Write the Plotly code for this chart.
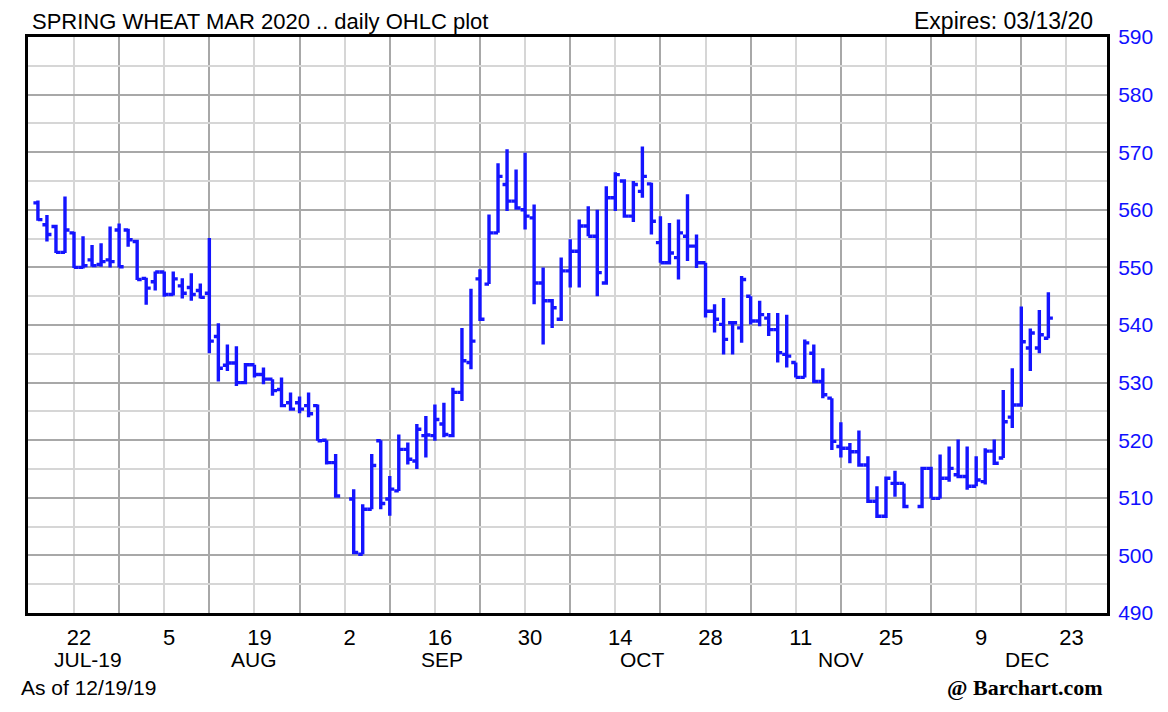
import pandas as pd
import plotly.graph_objects as go

# ---- data ----
holidays = ["2019-09-02", "2019-11-28"]
dates = [d for d in pd.bdate_range("2019-07-16", "2019-12-19").strftime("%Y-%m-%d") if d not in holidays]

opens = [561.2, 557.4, 557.1, 552.6, 556.0, 550.0, 551.3, 550.5, 551.3, 556.5,
         556.5, 554.5, 548.1, 547.5, 549.2, 545.3, 546.8, 546.5, 546.0, 545.5,
         538.0, 533.0, 533.4, 530.0, 533.1, 531.4, 530.6, 528.8, 526.5, 526.5,
         526.0, 526.0, 520.0, 516.1,
         509.8, 500.2, 508.0, 519.9, 509.8, 511.2, 518.4, 516.4, 520.8, 520.8,
         522.8, 520.8, 528.3, 533.5, 548.0, 547.1, 556.0, 564.4, 561.5, 560.0,
         558.6, 547.3, 544.2, 541.0, 549.4, 552.8, 557.2, 555.4, 547.3, 562.1,
         565.0, 558.9, 563.2, 564.5, 554.3, 550.8, 551.7, 555.4, 553.7, 550.8,
         542.4, 540.1, 540.4, 539.5, 545.0, 540.7, 541.2, 539.2, 534.9, 533.5,
         530.9, 535.1, 530.2, 527.3, 518.9, 518.6, 518.0, 515.7, 509.4, 506.8,
         512.5, 512.5,
         508.5, 515.1, 509.9, 513.4, 514.0, 513.7, 512.0, 512.8, 518.1, 516.9,
         524.0, 526.1, 536.0, 536.0, 537.7]
highs = [561.6, 559.1, 557.4, 562.3, 556.2, 555.4, 553.9, 554.2, 557.1, 557.6,
         556.7, 554.8, 548.2, 549.3, 549.3, 549.3, 548.1, 549.0, 547.2, 555.1,
         540.3, 536.6, 536.3, 533.4, 533.1, 532.6, 530.6, 530.9, 528.3, 527.6,
         528.3, 526.2, 520.0, 517.6,
         511.5, 508.9, 517.6, 520.0, 513.8, 521.0, 519.6, 522.8, 524.2, 526.2,
         526.5, 529.1, 539.5, 546.3, 549.7, 559.2, 568.1, 570.5, 567.0, 569.9,
         560.9, 550.0, 544.5, 551.7, 554.9, 558.3, 560.6, 560.0, 564.1, 566.5,
         565.3, 565.0, 571.0, 564.7, 558.9, 557.7, 558.3, 562.7, 555.7, 550.8,
         543.6, 544.7, 540.7, 548.5, 545.0, 544.2, 542.1, 542.1, 541.8, 533.5,
         537.5, 536.6, 532.5, 527.3, 523.1, 519.5, 521.7, 517.2, 512.0, 513.7,
         514.7, 512.5,
         515.4, 515.4, 517.5, 518.9, 520.1, 518.9, 517.2, 518.6, 520.1, 528.7,
         532.5, 543.2, 539.4, 542.6, 545.7]
lows = [558.1, 554.5, 552.5, 552.5, 549.9, 549.8, 550.1, 550.1, 550.0, 550.0,
        553.6, 547.8, 543.5, 546.0, 544.9, 545.1, 544.6, 544.2, 544.6, 535.1,
        530.2, 532.0, 529.4, 529.7, 530.9, 529.7, 527.7, 525.7, 525.1, 524.7,
        524.0, 519.9, 515.8, 510.0,
        500.2, 500.2, 508.0, 508.0, 506.9, 511.2, 515.8, 515.0, 517.0, 519.9,
        520.5, 520.5, 526.8, 532.3, 540.7, 547.1, 556.0, 559.8, 560.0, 556.6,
        543.6, 536.6, 539.5, 540.7, 546.5, 546.5, 555.4, 545.0, 547.0, 559.8,
        558.6, 557.9, 562.1, 555.7, 550.8, 550.5, 547.9, 551.1, 549.9, 541.3,
        538.7, 534.9, 534.9, 536.9, 540.1, 539.8, 538.1, 533.5, 532.6, 530.9,
        530.9, 529.9, 527.3, 518.3, 517.0, 516.0, 515.4, 509.1, 506.5, 506.5,
        510.2, 508.2,
        508.2, 509.9, 509.9, 512.8, 513.4, 511.4, 512.0, 512.3, 515.7, 516.9,
        522.1, 525.8, 532.0, 535.1, 537.7]
closes = [558.3, 555.7, 552.6, 556.5, 550.0, 550.3, 550.3, 551.0, 551.0, 550.1,
          554.8, 547.9, 546.4, 549.2, 545.3, 548.0, 545.5, 545.3, 544.8, 537.2,
          532.5, 533.4, 530.0, 533.1, 531.4, 530.6, 528.6, 526.0, 525.4, 525.4,
          524.6, 519.9, 516.1, 510.3,
          500.5, 508.0, 515.6, 509.0, 511.5, 518.4, 516.7, 521.9, 520.9, 523.6,
          521.0, 528.3, 533.8, 537.2, 541.0, 556.0, 565.8, 561.5, 560.3, 558.9,
          547.3, 544.2, 543.0, 549.4, 552.8, 557.2, 555.4, 549.1, 562.1, 566.1,
          558.9, 564.4, 565.8, 558.0, 550.8, 552.5, 556.0, 553.7, 550.8, 542.4,
          541.0, 537.5, 540.4, 547.9, 540.7, 541.8, 539.2, 535.2, 534.6, 530.9,
          536.9, 530.2, 527.9, 519.8, 518.6, 518.0, 515.7, 509.4, 506.8, 513.4,
          512.5, 508.5,
          515.1, 509.9, 513.4, 515.1, 513.7, 512.0, 513.1, 518.1, 516.0, 523.2,
          526.1, 537.1, 538.6, 538.3, 541.2]

tick_dates = ["2019-07-22", "2019-08-05", "2019-08-19", "2019-09-02", "2019-09-16", "2019-09-30",
              "2019-10-14", "2019-10-28", "2019-11-11", "2019-11-25", "2019-12-09", "2019-12-23"]
tick_labels = ["22", "5", "19", "2", "16", "30", "14", "28", "11", "25", "9", "23"]
dark_grid_dates = ["2019-07-15", "2019-07-29", "2019-08-12", "2019-08-26", "2019-09-09", "2019-09-23",
                   "2019-10-07", "2019-10-21", "2019-11-04", "2019-11-18", "2019-12-02", "2019-12-16"]
month_dates = ["2019-07-23 14:00", "2019-08-19", "2019-09-16 18:00", "2019-10-17", "2019-11-18", "2019-12-16 14:00"]
month_labels = ["JUL-19", "AUG", "SEP", "OCT", "NOV", "DEC"]
x_range = ["2019-07-12 21:36", "2019-12-27 12:00"]
y_range = [490, 590]

FONT = "Liberation Sans, Arial, sans-serif"
BLUE = "#1414ff"

fig = go.Figure(go.Ohlc(
    x=dates, open=opens, high=highs, low=lows, close=closes,
    increasing=dict(line=dict(color=BLUE, width=3.4)),
    decreasing=dict(line=dict(color=BLUE, width=3.4)),
    tickwidth=0.5, hoverinfo="skip",
))

# the page body adds an 8 px offset, so margins are reduced by 8 on left/top
fig.update_layout(
    width=1168, height=712,
    margin=dict(l=20, r=69, t=29, b=107),
    paper_bgcolor="white", plot_bgcolor="white",
    showlegend=False,
    font=dict(family=FONT, color="black"),
)

fig.update_xaxes(
    type="date", range=x_range,
    rangebreaks=[dict(bounds=["sat", "mon"])],
    rangeslider=dict(visible=False),
    tickmode="array", tickvals=tick_dates, ticktext=tick_labels,
    ticks="", ticklabelstandoff=3, ticklabelshift=5,
    tickfont=dict(size=22, color="black", family=FONT),
    showgrid=True, gridcolor="#d6d6d6", gridwidth=2,
    minor=dict(tickmode="array", tickvals=dark_grid_dates, showgrid=True,
               gridcolor="#a8a8a8", gridwidth=2, ticks=""),
    showline=True, linecolor="black", linewidth=3, mirror=True,
    zeroline=False, fixedrange=True,
)

fig.update_yaxes(
    side="right", range=y_range, tickmode="linear", tick0=490, dtick=10,
    ticks="", ticklabelstandoff=4,
    tickfont=dict(size=21, color="#1010ff", family=FONT),
    showgrid=True, gridcolor="#a8a8a8", gridwidth=2,
    minor=dict(dtick=5, showgrid=True, gridcolor="#d6d6d6", gridwidth=2),
    showline=True, linecolor="black", linewidth=3, mirror=True,
    zeroline=False,
)

annotations = [
    dict(text="SPRING WHEAT MAR 2020 .. daily OHLC plot", xref="paper", yref="paper",
         x=0, y=1, xanchor="left", yanchor="bottom", xshift=2, yshift=1,
         showarrow=False, font=dict(size=22, color="black", family=FONT)),
    dict(text="Expires: 03/13/20", xref="paper", yref="paper",
         x=1, y=1, xanchor="right", yanchor="bottom", xshift=-12, yshift=1,
         showarrow=False, font=dict(size=23, color="black", family=FONT)),
    dict(text="As of 12/19/19", xref="paper", yref="paper",
         x=0, y=0, xanchor="left", yanchor="middle", xshift=-9, yshift=-74,
         showarrow=False, font=dict(size=21, color="black", family=FONT)),
    dict(text="<b>@ Barchart.com</b>", xref="paper", yref="paper",
         x=1, y=0, xanchor="right", yanchor="middle", xshift=-2, yshift=-74,
         showarrow=False, font=dict(size=22, color="black",
                                    family="Liberation Serif, Times New Roman, serif")),
]
for d, lab in zip(month_dates, month_labels):
    annotations.append(dict(text=lab, xref="x", yref="paper", x=d, y=0,
                            xanchor="center", yanchor="middle", yshift=-46,
                            showarrow=False, font=dict(size=21, color="black", family=FONT)))
fig.update_layout(annotations=annotations)

fig.write_html("out.html")
